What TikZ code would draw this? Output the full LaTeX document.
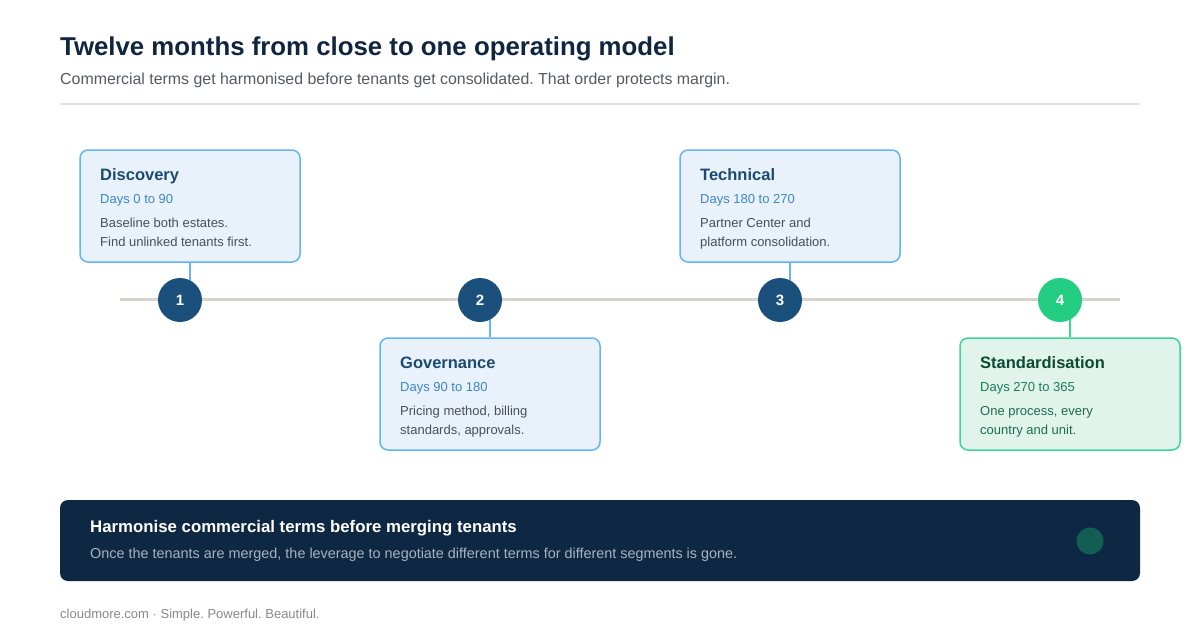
\documentclass[tikz,border=0pt]{standalone}
\usepackage{fontspec}
\setmainfont{Liberation Sans}
\frenchspacing
\definecolor{navy}{HTML}{10253F}
\definecolor{subgray}{HTML}{555A60}
\definecolor{rulegray}{HTML}{E2E2DE}
\definecolor{linegray}{HTML}{D5D3CC}
\definecolor{stepblue}{HTML}{1B4F7C}
\definecolor{cardfill}{HTML}{E9F2FB}
\definecolor{cardedge}{HTML}{64B5F6}
\definecolor{cardtitle}{HTML}{1B4A72}
\definecolor{cardday}{HTML}{3A86C8}
\definecolor{cardbody}{HTML}{4A4F55}
\definecolor{greenfill}{HTML}{E1F4EC}
\definecolor{greenedge}{HTML}{3DD598}
\definecolor{greendot}{HTML}{22CC80}
\definecolor{greentitle}{HTML}{0B4A35}
\definecolor{greenday}{HTML}{1A7A5A}
\definecolor{greenbody}{HTML}{1D6B50}
\definecolor{banner}{HTML}{0E2742}
\definecolor{bannersub}{HTML}{A8B3C0}
\definecolor{teal}{HTML}{135E54}
\definecolor{footgray}{HTML}{888888}
\tikzset{
  txt/.style={inner sep=0pt, anchor=base west},
  card/.style={draw=cardedge, fill=cardfill, line width=1.5pt, rounded corners=8pt, minimum width=220pt, minimum height=112pt, inner sep=0pt},
  gcard/.style={card, draw=greenedge, fill=greenfill},
  dot/.style={circle, fill=stepblue, minimum size=44pt, inner sep=0pt, text=white, font=\bfseries\fontsize{15}{18}\selectfont},
  gdot/.style={dot, fill=greendot},
  link/.style={draw=cardedge, line width=2pt},
  glink/.style={draw=greenedge, line width=2pt},
  ctitle/.style={txt, text=cardtitle, font=\bfseries\fontsize{16.5}{20}\selectfont},
  cday/.style={txt, text=cardday, font=\fontsize{13}{16}\selectfont},
  cbody/.style={txt, text=cardbody, font=\fontsize{13}{16}\selectfont},
}
\begin{document}
\begin{tikzpicture}[x=1pt,y=-1pt]
\useasboundingbox[fill=white] (0,0) rectangle (1200,640);
% header
\node[txt, text=navy, font=\bfseries\fontsize{25.8}{30}\selectfont] (title) at (60,55) {Twelve months from close to one operating model};
\node[txt, text=subgray, font=\fontsize{15.9}{18}\selectfont] (subtitle) at (60,84) {Commercial terms get harmonised before tenants get consolidated. That order protects margin.};
\coordinate (r1) at (60,104);
\coordinate (r2) at (1140,104);
\draw[rulegray, line width=1.5pt] (r1) -- (r2);
% timeline
\coordinate (t1) at (120,299);
\coordinate (t2) at (1120,299);
\draw[linegray, line width=3pt] (t1) -- (t2);
% cards
\node[card] (c1) at (190,206) {};
\node[card] (c2) at (490,394) {};
\node[card] (c3) at (790,206) {};
\node[gcard] (c4) at (1070,394) {};
% dots positions
\coordinate (p1) at (180,300);
\coordinate (p2) at (480,300);
\coordinate (p3) at (780,300);
\coordinate (p4) at (1060,300);
% connectors
\draw[link] (c1.south) -- (c1.south |- 0,282);
\draw[link] (c2.north) -- (c2.north |- 0,318);
\draw[link] (c3.south) -- (c3.south |- 0,282);
\draw[glink] (c4.north) -- (c4.north |- 0,318);
% dots
\node[dot] (d1) at (p1) {1};
\node[dot] (d2) at (p2) {2};
\node[dot] (d3) at (p3) {3};
\node[gdot] (d4) at (p4) {4};
% card texts
\node[ctitle] (c1t) at (100,180) {Discovery};
\node[cday] (c1d) at (100,203) {Days 0 to 90};
\node[cbody] (c1a) at (100,227) {Baseline both estates.};
\node[cbody] (c1b) at (100,246) {Find unlinked tenants first.};

\node[ctitle] (c2t) at (400,368) {Governance};
\node[cday] (c2d) at (400,391) {Days 90 to 180};
\node[cbody] (c2a) at (400,415) {Pricing method, billing};
\node[cbody] (c2b) at (400,434) {standards, approvals.};

\node[ctitle] (c3t) at (700,180) {Technical};
\node[cday] (c3d) at (700,203) {Days 180 to 270};
\node[cbody] (c3a) at (700,227) {Partner Center and};
\node[cbody] (c3b) at (700,246) {platform consolidation.};

\node[ctitle, text=greentitle] (c4t) at (980,368) {Standardisation};
\node[cday, text=greenday] (c4d) at (980,391) {Days 270 to 365};
\node[cbody, text=greenbody] (c4a) at (980,415) {One process, every};
\node[cbody, text=greenbody] (c4b) at (980,434) {country and unit.};
% banner
\node[fill=banner, rounded corners=8pt, minimum width=1080pt, minimum height=81pt, inner sep=0pt] (ban) at (600,540.5) {};
\node[txt, text=white, font=\bfseries\fontsize{16.8}{20}\selectfont] (bant) at (90,532) {Harmonise commercial terms before merging tenants};
\node[txt, text=bannersub, font=\fontsize{14.4}{17}\selectfont] (bans) at (90,558) {Once the tenants are merged, the leverage to negotiate different terms for different segments is gone.};
\node[circle, fill=teal, minimum size=27pt, inner sep=0pt] (band) at (1090,541) {};
% footer
\node[txt, text=footgray, font=\fontsize{13}{15}\selectfont] (foot) at (60,618) {cloudmore.com · Simple. Powerful. Beautiful.};
\end{tikzpicture}
\end{document}
